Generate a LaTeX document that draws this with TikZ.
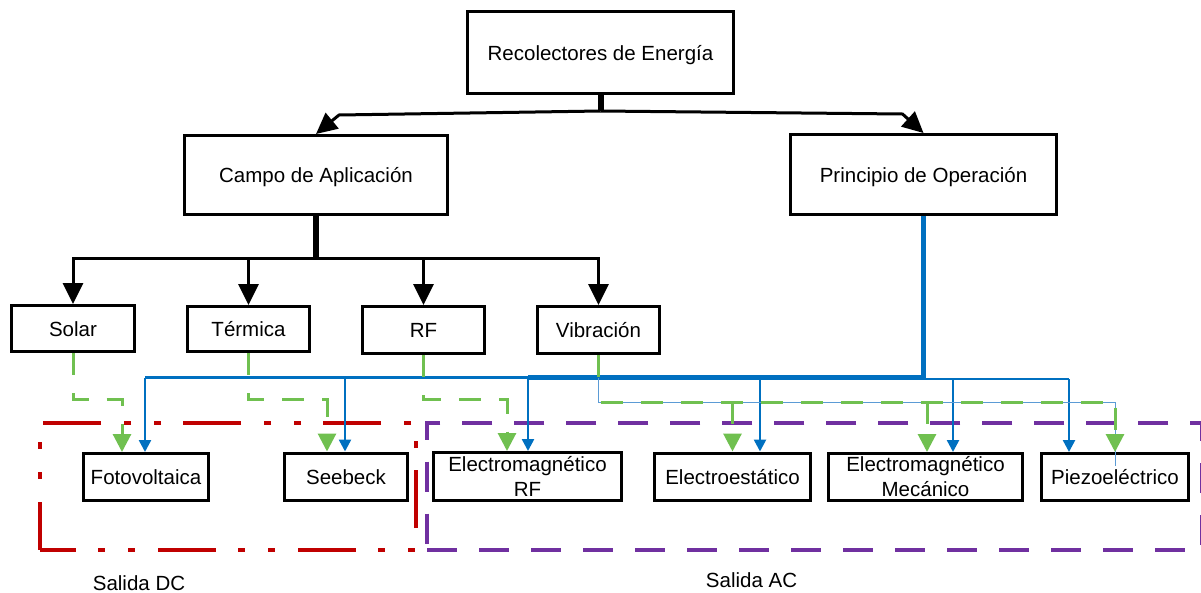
\documentclass[tikz,border=0pt]{standalone}
\usepackage{fontspec}
\setmainfont{Liberation Sans}
\usetikzlibrary{arrows.meta}
\definecolor{acblue}{RGB}{0,112,192}
\definecolor{paleblue}{RGB}{91,155,213}
\definecolor{acgreen}{RGB}{112,192,80}
\definecolor{dcred}{RGB}{192,0,0}
\definecolor{acpurple}{RGB}{112,48,160}
\begin{document}
\begin{tikzpicture}[x=1pt,y=-1pt,
  box/.style={draw, line width=3pt, rectangle, inner sep=0pt, align=center,
    font=\fontsize{20.5}{25}\selectfont},
  oneline/.style={text height=15pt, text depth=0pt},
  blkline/.style={line width=3pt, draw=black},
  blkarrow/.style={blkline, -{Triangle[width=20pt,length=21pt]}},
  stem/.style={line width=6pt, draw=black},
  bthick/.style={line width=5pt, draw=acblue},
  bthin/.style={line width=2.5pt, draw=acblue},
  barrow/.style={bthin, -{Triangle[width=12pt,length=12pt]}},
  gdash/.style={line width=3pt, draw=acgreen, dash pattern=on 22pt off 18pt,
    -{Triangle[width=18pt,length=18pt]}},
  gline/.style={line width=3pt, draw=acgreen, dash pattern=on 22pt off 18pt},
  lbline/.style={line width=1pt, draw=paleblue},
  caption/.style={font=\fontsize{20.5}{25}\selectfont, anchor=base}
]
\useasboundingbox (0,0) rectangle (1201,592);

% output groups
\draw[line width=3.5pt, dcred, dash pattern=on 58pt off 22pt on 7pt off 23pt on 7pt off 23pt, dash phase=22pt]
  (40,550) -- (416,550) -- (416,423) -- (40,423) -- cycle;
\draw[line width=3.5pt, acpurple, dash pattern=on 30pt off 22pt]
  (427,550) -- (1202.2,550) -- (1202.2,423) -- (427,423) -- cycle;

% top levels
\node[box, oneline, minimum width=266pt, minimum height=82pt] (rec) at (600.5,52.5) {Recolectores de Energía};
\node[box, oneline, minimum width=263pt, minimum height=79pt] (campo) at (316,175) {Campo de Aplicación};
\node[box, oneline, minimum width=266pt, minimum height=80pt] (princ) at (923.5,174.5) {Principio de Operación};

% application fields
\node[box, oneline, minimum width=123pt, minimum height=46pt] (solar) at (73,328.5) {Solar};
\node[box, oneline, minimum width=122pt, minimum height=45pt] (termica) at (248.5,329) {Térmica};
\node[box, oneline, minimum width=122pt, minimum height=47pt] (rf) at (423.5,330) {RF};
\node[box, oneline, minimum width=122pt, minimum height=47pt] (vib) at (598.5,330) {Vibración};

% operating principles
\node[box, oneline, minimum width=125pt, minimum height=47pt] (foto) at (146,477) {Fotovoltaica};
\node[box, oneline, minimum width=123pt, minimum height=47pt] (seebeck) at (346,476.5) {Seebeck};
\node[box, minimum width=188pt, minimum height=48pt] (emrf) at (527.5,476.5) {Electromagnético\\RF};
\node[box, oneline, minimum width=156pt, minimum height=47pt] (estat) at (732.5,476.5) {Electroestático};
\node[box, minimum width=194pt, minimum height=47pt] (emmec) at (925.5,477) {Electromagnético\\Mecánico};
\node[box, oneline, minimum width=147pt, minimum height=47pt] (piezo) at (1115,477) {Piezoeléctrico};

% captions
\node[caption] (dc) at (139,590) {Salida DC};
\node[caption] (ac) at (751.5,587) {Salida AC};

% top split
\coordinate (topj) at (600.5,111);
\draw[stem] (rec.south) -- (topj);
\draw[blkarrow] (topj) -- ([shift={(23,-19)}]campo.north) -- (campo.north);
\draw[blkarrow] (topj) -- ([shift={(-21,-19)}]princ.north) -- (princ.north);

% application branches
\coordinate (cj) at (316,258);
\draw[stem] (campo.south) -- ([yshift=1.5pt]cj);
\draw[blkarrow] (cj) -| (solar.north);
\draw[blkarrow] (cj) -| (termica.north);
\draw[blkarrow] (cj) -| (rf.north);
\draw[blkarrow] (cj) -| (vib.north);

% principle bus
\coordinate (b1) at (145,377.5);
\coordinate (b2) at (345,377.5);
\coordinate (b3) at (528,377.5);
\coordinate (b4) at (760,377.5);
\coordinate (b5) at (953,379);
\coordinate (b6) at (1069,379);
\draw[bthin] (b3) -- (b1);
\draw[barrow] (b1) -- (b1 |- foto.north);
\draw[barrow] (b2) -- (b2 |- seebeck.north);
\draw[barrow] (b3) -- (b3 |- emrf.north);
\draw[barrow] (b4) -- (b4 |- estat.north);
\draw[bthin] (princ.south |- b6) -- (b6);
\draw[barrow] (b5) -- (b5 |- emmec.north);
\draw[barrow] (b6) -- (b6 |- piezo.north);
\draw[bthick] (princ.south) |- (b3);

% field to principle links
\coordinate (gy) at (0,399.5);
\coordinate (vy) at (0,402);
\draw[gdash] (solar.south) |- ([xshift=-24pt]foto.north |- gy) -- ([xshift=-24pt]foto.north);
\draw[gdash] (termica.south) |- ([xshift=-19pt]seebeck.north |- gy) -- ([xshift=-19pt]seebeck.north);
\draw[gdash] (rf.south) |- ([xshift=-20.5pt]emrf.north |- gy) -- ([xshift=-20.5pt]emrf.north);
\draw[lbline] (vib.south |- b1) -- (vib.south |- vy) -| ([yshift=-14pt]piezo.north);
\draw[gline] (vib.south) -- ([yshift=-24pt]vib.south);
\draw[gdash, dash phase=-2pt] (vib.south |- vy) -| (piezo.north);
\draw[gdash] (estat.north |- vy) -- (estat.north);
\draw[gdash] ([xshift=1.5pt]emmec.north |- vy) -- ([xshift=1.5pt]emmec.north);
\end{tikzpicture}
\end{document}
